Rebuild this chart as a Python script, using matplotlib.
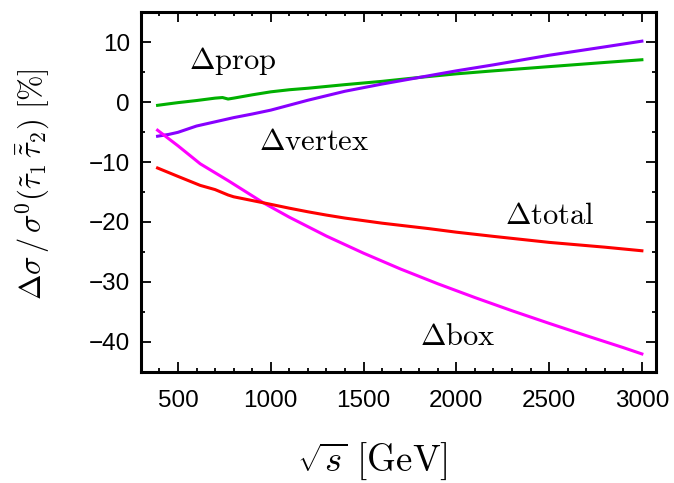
import matplotlib
matplotlib.use("Agg")
import matplotlib.pyplot as plt
from matplotlib.ticker import MultipleLocator

# sqrt(s) [GeV] and relative corrections [%]
x_prop = [390, 450, 500, 600, 700, 740, 770, 800, 900, 1000, 1100, 1200, 1400,
          1600, 1800, 2000, 2200, 2500, 2800, 3000]
y_prop = [-0.55, -0.3, -0.1, 0.25, 0.65, 0.75, 0.5, 0.65, 1.2, 1.7, 2.05, 2.3, 2.9,
          3.45, 4.1, 4.7, 5.2, 5.9, 6.6, 7.05]

x_vertex = [390, 450, 500, 600, 700, 800, 900, 1000, 1200, 1400, 1600, 1800,
            2000, 2200, 2500, 2800, 3000]
y_vertex = [-5.7, -5.4, -5.05, -4.0, -3.3, -2.6, -2.0, -1.35, 0.3, 1.8, 3.0, 4.1,
            5.2, 6.2, 7.8, 9.2, 10.15]

x_box = [390, 500, 620, 770, 960, 1100, 1300, 1500, 1700, 1900, 2100, 2300,
         2500, 2700, 2900, 3000]
y_box = [-4.7, -7.3, -10.3, -13.1, -16.8, -19.2, -22.35, -25.2, -27.85, -30.3,
         -32.6, -34.8, -36.9, -38.95, -40.95, -42.0]

x_total = [390, 500, 620, 700, 770, 800, 960, 1100, 1200, 1300, 1400, 1600, 1850,
           2000, 2200, 2500, 2800, 3000]
y_total = [-11.0, -12.4, -13.9, -14.6, -15.5, -15.8, -16.8, -17.7, -18.3, -18.85,
           -19.35, -20.2, -21.1, -21.7, -22.4, -23.4, -24.2, -24.8]

plt.rcParams['mathtext.fontset'] = 'cm'
plt.rcParams['font.family'] = ['Liberation Sans', 'DejaVu Sans']

fig = plt.figure(figsize=(6.74, 4.83), dpi=100)
ax = fig.add_axes([0.209, 0.230, 0.764, 0.745])

lw = 2.2
ax.plot(x_prop, y_prop, color='#00b000', lw=lw)
ax.plot(x_vertex, y_vertex, color='#8800ff', lw=lw)
ax.plot(x_box, y_box, color='#ff00ff', lw=lw)
ax.plot(x_total, y_total, color='#ff0000', lw=lw)

lab = dict(fontsize=22, va='baseline', ha='left')
ax.text(561, 5.45, r'$\Delta\mathrm{prop}$', **lab)
ax.text(934, -7.93, r'$\Delta\mathrm{vertex}$', **lab)
ax.text(2261, -20.4, r'$\Delta\mathrm{total}$', **lab)
ax.text(1804, -40.5, r'$\Delta\mathrm{box}$', **lab)

ax.set_xlim(300, 3075)
ax.set_ylim(-45, 15)
ax.xaxis.set_major_locator(MultipleLocator(500))
ax.xaxis.set_minor_locator(MultipleLocator(100))
ax.yaxis.set_major_locator(MultipleLocator(10))
ax.yaxis.set_minor_locator(MultipleLocator(5))
ax.tick_params(which='both', direction='in', top=True, right=True, width=1.3,
               labelsize=17.5)
ax.tick_params(axis='x', which='both', pad=13)
ax.tick_params(axis='y', which='both', pad=8)
ax.tick_params(which='major', length=7.5)
ax.tick_params(which='minor', length=3)
for s in ax.spines.values():
    s.set_linewidth(2.2)

ax.set_xlabel(r'$\sqrt{s}\ [\mathrm{GeV}]$', fontsize=26.5)
ax.xaxis.set_label_coords(0.449, -0.19)
ax.set_ylabel(r'$\Delta\sigma\,/\,\sigma^0(\tilde{\tau}_1\,\bar{\tilde{\tau}}_2)\ [\%]$',
              fontsize=22)
ax.yaxis.set_label_coords(-0.173, 0.521)

fig.savefig('out.png', dpi=100)
